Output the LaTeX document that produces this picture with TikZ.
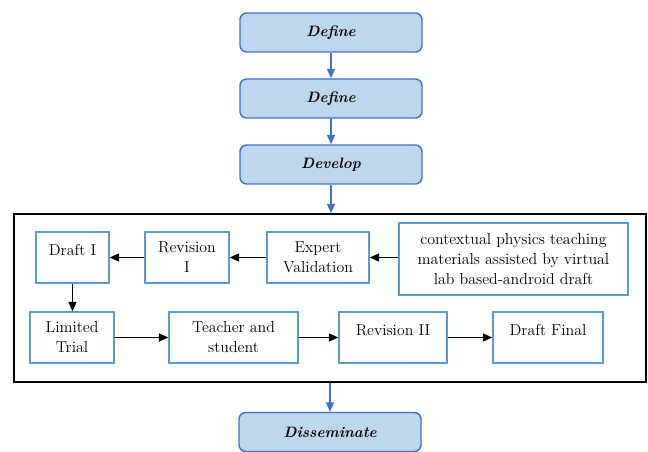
\documentclass[tikz,border=0pt]{standalone}
\usetikzlibrary{arrows.meta}
\definecolor{phasefill}{HTML}{BDD7EE}
\definecolor{phaseline}{HTML}{4472C4}
\definecolor{stepline}{HTML}{5B9BD5}
\tikzset{
  phase/.style={draw=phaseline, fill=phasefill, line width=1.1pt, rounded corners=5pt,
    minimum width=182*0.75pt, minimum height=39*0.75pt, inner sep=0pt,
    font=\fontsize{11.3}{14}\selectfont\bfseries\itshape},
  stepbox/.style={draw=stepline, line width=1.1pt, minimum height=51*0.75pt, inner sep=0pt,
    align=center, font=\fontsize{11.9}{15}\selectfont},
  oneline/.style={text height=8.5pt, text depth=11.5pt},
  bluearrow/.style={draw=phaseline, line width=0.9pt, -{Triangle[length=7pt,width=6pt]}},
  blackarrow/.style={draw=black, line width=1pt, -{Triangle[length=7pt,width=6pt]}},
  frame/.style={draw=black, line width=1.1pt}
}
\begin{document}
\begin{tikzpicture}[x=0.75pt,y=-0.75pt]
\useasboundingbox (0,0) rectangle (648,452);
\node[phase] (def1) at (331,32.5) {Define};
\node[phase] (def2) at (331,98.5) {Define};
\node[phase] (dev) at (331,164.5) {Develop};
\node[phase] (dis) at (330,432) {Disseminate};
\node[frame, minimum width=632*0.75pt, minimum height=168*0.75pt, inner sep=0pt] (frm) at (330,298) {};

\node[stepbox, oneline, minimum width=73*0.75pt] (d1) at (72.5,257.5) {Draft I};
\node[stepbox, minimum width=84*0.75pt] (r1) at (187,257.5) {Revision\\I};
\node[stepbox, minimum width=102*0.75pt] (ev) at (318,257.5) {Expert\\Validation};
\node[stepbox, minimum width=229*0.75pt, minimum height=72*0.75pt] (ctx) at (513.5,259) {contextual physics teaching\\materials assisted by virtual\\lab based-android draft};
\node[stepbox, minimum width=84*0.75pt] (lt) at (72,337.5) {Limited\\Trial};
\node[stepbox, minimum width=129*0.75pt] (ts) at (233.5,337.5) {Teacher and\\student};
\node[stepbox, oneline, minimum width=108*0.75pt] (r2) at (393,337.5) {Revision II};
\node[stepbox, oneline, minimum width=110*0.75pt] (df) at (548,337.5) {Draft Final};

\draw[bluearrow] (def1) -- (def2);
\draw[bluearrow] (def2) -- (dev);
\draw[bluearrow] (dev.south) -- (dev.south |- frm.north);
\draw[bluearrow] (dis.north |- frm.south) -- (dis.north);

\draw[blackarrow] (ctx.west |- ev.east) -- (ev.east);
\draw[blackarrow] (ev) -- (r1);
\draw[blackarrow] (r1) -- (d1);
\draw[blackarrow] (d1.south) -- (d1.south |- lt.north);
\draw[blackarrow] (lt) -- (ts);
\draw[blackarrow] (ts) -- (r2);
\draw[blackarrow] (r2) -- (df);
\end{tikzpicture}
\end{document}
